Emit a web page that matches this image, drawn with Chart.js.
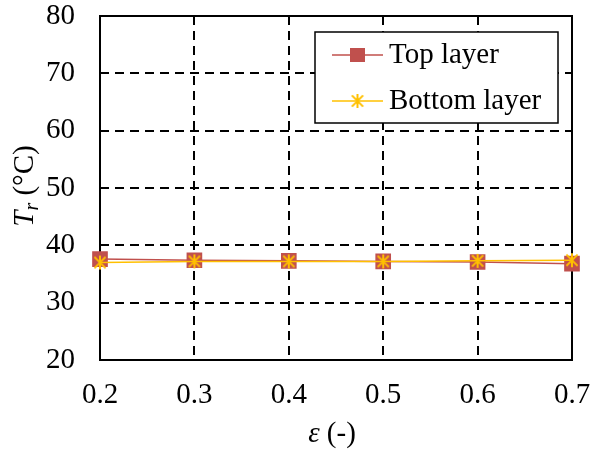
<!DOCTYPE html>
<html>
<head>
<meta charset="utf-8">
<script src="https://cdn.jsdelivr.net/npm/chart.js@4"></script>
<style>
html,body{margin:0;padding:0;background:#fff;}
#wrap{width:590px;height:452px;}
</style>
</head>
<body>
<div id="wrap"><canvas id="c" width="590" height="452"></canvas></div>
<script>
const xValues = [0.2, 0.3, 0.4, 0.5, 0.6, 0.7];
const topLayer = [37.6, 37.4, 37.3, 37.2, 37.1, 36.8];
const bottomLayer = [37.0, 37.2, 37.2, 37.2, 37.3, 37.4];
const seriesNames = ['Top layer', 'Bottom layer'];
const yTicks = [20, 30, 40, 50, 60, 70, 80];
const xTicks = ['0.2', '0.3', '0.4', '0.5', '0.6', '0.7'];

const RED = '#C0504D';
const YEL = '#FFC000';
const FONT = '"Liberation Serif", "Times New Roman", serif';
const FS = 29;

function starImage(size, color) {
  const c = document.createElement('canvas');
  c.width = size; c.height = size;
  const g = c.getContext('2d');
  const m = size / 2, r = size / 2 - 1;
  g.strokeStyle = color; g.lineWidth = 2;
  g.beginPath();
  g.moveTo(m, m - r); g.lineTo(m, m + r);
  const d = r * 0.8;
  g.moveTo(m - d, m - d); g.lineTo(m + d, m + d);
  g.moveTo(m + d, m - d); g.lineTo(m - d, m + d);
  g.stroke();
  return c;
}
const star = starImage(16, YEL);

const framePlugin = {
  id: 'frame',
  beforeDatasetsDraw(chart) {
    const ctx = chart.ctx, a = chart.chartArea;
    ctx.save();
    ctx.strokeStyle = '#000'; ctx.lineWidth = 2; ctx.setLineDash([]);
    ctx.strokeRect(a.left, a.top, a.right - a.left, a.bottom - a.top);
    ctx.restore();
  },
  afterDraw(chart) {
    const ctx = chart.ctx;
    ctx.save();
    // legend
    const lx = 315, ly = 32, lw = 243, lh = 91;
    ctx.fillStyle = '#fff';
    ctx.fillRect(lx, ly, lw, lh);
    ctx.strokeStyle = '#000';
    ctx.lineWidth = 1.5;
    ctx.strokeRect(lx, ly, lw, lh);
    const rows = [55, 101];
    ctx.strokeStyle = RED;
    ctx.beginPath(); ctx.moveTo(332, rows[0]); ctx.lineTo(383, rows[0]); ctx.stroke();
    ctx.fillStyle = RED;
    ctx.fillRect(350, rows[0] - 7, 15, 14);
    ctx.strokeStyle = YEL;
    ctx.beginPath(); ctx.moveTo(332, rows[1]); ctx.lineTo(383, rows[1]); ctx.stroke();
    ctx.drawImage(star, 357.5 - 8, rows[1] - 8);
    ctx.fillStyle = '#000';
    ctx.font = FS + 'px ' + FONT;
    ctx.textBaseline = 'middle'; ctx.textAlign = 'left';
    ctx.fillText(seriesNames[0], 389, rows[0]);
    ctx.fillText(seriesNames[1], 389, rows[1]);
    // x title
    ctx.textBaseline = 'alphabetic';
    const p1 = 'ε', p2 = ' (-)';
    ctx.font = 'italic ' + FS + 'px ' + FONT;
    const w1 = ctx.measureText(p1).width;
    ctx.font = FS + 'px ' + FONT;
    const w2 = ctx.measureText(p2).width;
    let sx = 332 - (w1 + w2) / 2;
    ctx.font = 'italic ' + FS + 'px ' + FONT;
    ctx.fillText(p1, sx, 442);
    ctx.font = FS + 'px ' + FONT;
    ctx.fillText(p2, sx + w1, 442);
    // y title
    ctx.save();
    ctx.translate(33, 186);
    ctx.rotate(-Math.PI / 2);
    ctx.font = 'italic ' + FS + 'px ' + FONT;
    const tW = ctx.measureText('T').width;
    ctx.font = 'italic 20px ' + FONT;
    const rW = ctx.measureText('r').width;
    ctx.font = FS + 'px ' + FONT;
    const cW = ctx.measureText(' (°C)').width;
    let yx = -(tW + rW + cW) / 2;
    ctx.font = 'italic ' + FS + 'px ' + FONT;
    ctx.fillText('T', yx, 0);
    ctx.font = 'italic 20px ' + FONT;
    ctx.fillText('r', yx + tW, 5);
    ctx.font = FS + 'px ' + FONT;
    ctx.fillText(' (°C)', yx + tW + rW, 0);
    ctx.restore();
    ctx.restore();
  }
};

new Chart(document.getElementById('c'), {
  type: 'line',
  data: {
    datasets: [
      {
        label: seriesNames[0],
        order: 1,
        clip: false,
        data: xValues.map((x, i) => ({x: x, y: topLayer[i]})),
        borderColor: RED, backgroundColor: RED, borderWidth: 1.5,
        pointStyle: 'rect', pointRadius: 10, pointHoverRadius: 10,
        pointBorderColor: RED, pointBackgroundColor: RED, tension: 0
      },
      {
        label: seriesNames[1],
        order: 0,
        clip: false,
        data: xValues.map((x, i) => ({x: x, y: bottomLayer[i]})),
        borderColor: YEL, backgroundColor: YEL, borderWidth: 1.5,
        pointStyle: star, pointRadius: 8, tension: 0
      }
    ]
  },
  options: {
    responsive: false,
    animation: false,
    devicePixelRatio: 1,
    layout: {padding: {top: 16, right: 18, left: 0, bottom: 0}},
    plugins: {legend: {display: false}, tooltip: {enabled: false}},
    scales: {
      x: {
        type: 'linear', min: 0.2, max: 0.7,
        afterBuildTicks(s) { s.ticks = xTicks.map(v => ({value: parseFloat(v)})); },
        ticks: {
          callback: (v) => Number(v).toFixed(1),
          color: '#000', font: {family: FONT, size: FS}, padding: 18, maxRotation: 0
        },
        grid: {color: '#000', lineWidth: 2, drawTicks: false},
        border: {display: false, dash: [9, 6]},
        afterFit(s) { s.height = 92; s.paddingLeft = 0; s.paddingRight = 0; }
      },
      y: {
        min: 20, max: 80,
        afterBuildTicks(s) { s.ticks = yTicks.map(v => ({value: v})); },
        ticks: {color: '#000', font: {family: FONT, size: FS}, padding: 25},
        grid: {color: '#000', lineWidth: 2, drawTicks: false},
        border: {display: false, dash: [9, 6]},
        afterFit(s) { s.width = 100; s.paddingTop = 0; s.paddingBottom = 0; }
      }
    }
  },
  plugins: [framePlugin]
});
</script>
</body>
</html>
